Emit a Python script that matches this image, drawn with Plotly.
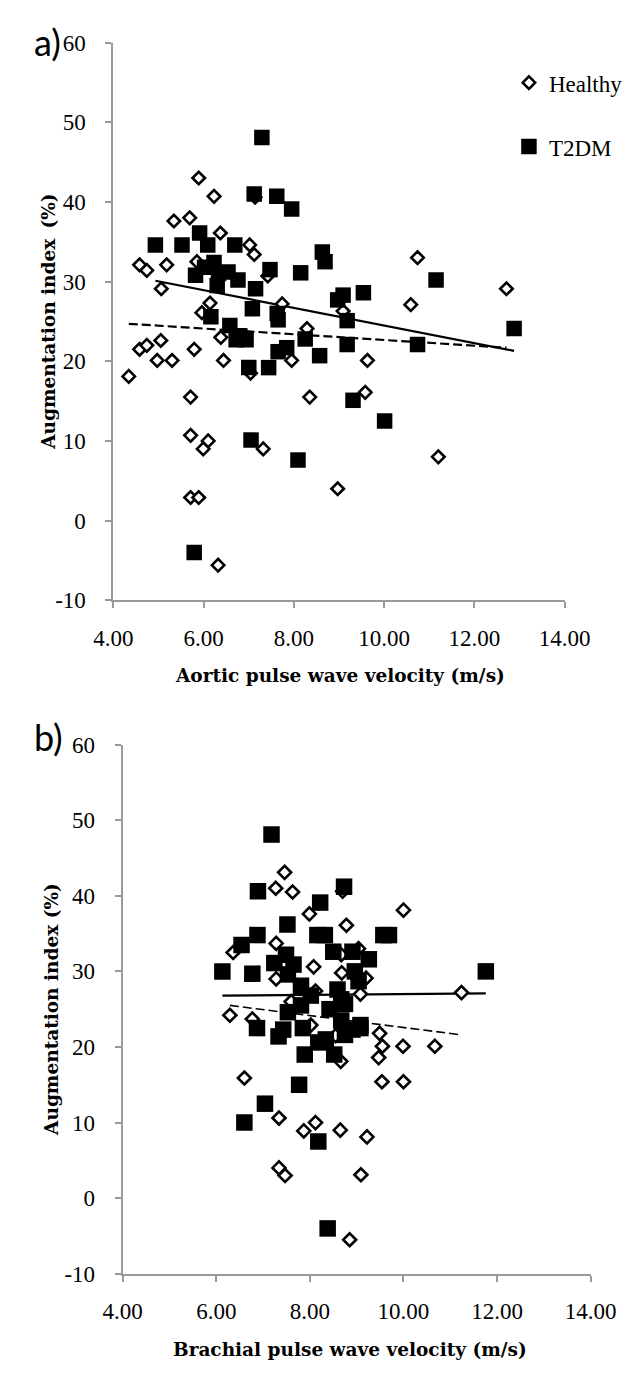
import plotly.graph_objects as go

# ---------------- data ----------------
# Panel a: aortic PWV (m/s) vs augmentation index (%)
a_healthy_x = [4.34, 4.58, 4.74, 5.18, 5.06, 5.34, 5.69, 5.89, 6.23, 6.37, 7.02, 7.12, 5.85, 6.14,
               5.96, 7.42, 7.74, 9.09, 10.74, 10.59, 12.71, 8.29, 6.38, 5.05, 4.58, 4.74, 4.97, 5.30,
               5.79, 6.44, 7.04, 7.95, 9.63, 5.71, 8.35, 9.58, 5.71, 6.10, 5.99, 7.32, 11.20, 8.97,
               5.71, 5.89, 6.32, 7.14]
a_healthy_y = [18.1, 32.1, 31.4, 32.1, 29.1, 37.6, 38.0, 43.0, 40.7, 36.1, 34.6, 33.4, 32.5, 27.3,
               26.1, 30.7, 27.2, 26.3, 33.0, 27.1, 29.1, 24.1, 23.0, 22.6, 21.5, 22.0, 20.1, 20.1,
               21.5, 20.1, 18.5, 20.1, 20.1, 15.5, 15.5, 16.1, 10.7, 10.0, 9.0, 9.0, 8.0, 4.0,
               2.9, 2.9, -5.6, 40.6]
a_t2dm_x = [4.93, 5.52, 5.91, 6.09, 6.69, 7.29, 7.12, 7.62, 7.95, 8.63, 8.69, 5.82, 6.02, 6.23,
            6.33, 6.54, 6.76, 6.30, 7.15, 7.47, 8.15, 7.08, 7.63, 7.65, 6.16, 6.58, 6.80, 6.94,
            6.72, 8.25, 9.18, 8.97, 9.09, 9.54, 11.15, 12.88, 10.74, 9.18, 7.65, 7.84, 8.57, 7.00,
            7.44, 9.31, 10.01, 7.05, 8.09, 5.79]
a_t2dm_y = [34.6, 34.6, 36.1, 34.6, 34.6, 48.1, 41.0, 40.7, 39.1, 33.7, 32.5, 30.8, 31.8, 32.4,
            31.0, 31.2, 30.2, 29.5, 29.1, 31.5, 31.1, 26.6, 26.0, 25.2, 25.6, 24.5, 23.2, 22.7,
            22.7, 22.8, 25.1, 27.7, 28.3, 28.6, 30.2, 24.1, 22.1, 22.1, 21.2, 21.7, 20.7, 19.2,
            19.2, 15.1, 12.5, 10.1, 7.6, -4.0]
# trend lines (end values)
a_trend_healthy_x = [4.34, 12.71]
a_trend_healthy_y = [24.7, 21.7]
a_trend_t2dm_x = [4.93, 12.88]
a_trend_t2dm_y = [30.1, 21.3]

# Panel b: brachial PWV (m/s) vs augmentation index (%)
b_healthy_x = [7.46, 7.27, 7.63, 7.99, 8.78, 10.00, 7.28, 6.36, 8.08, 9.04, 8.67, 8.68, 9.20, 7.28,
               8.12, 9.08, 11.24, 6.29, 6.77, 8.02, 9.49, 9.55, 9.99, 10.67, 9.47, 8.66, 6.60, 9.54,
               10.00, 7.34, 8.12, 7.87, 8.65, 9.22, 7.34, 7.47, 9.09, 8.85, 8.70, 8.55, 7.60]
b_healthy_y = [43.1, 41.0, 40.5, 37.6, 36.1, 38.1, 33.7, 32.5, 30.6, 33.0, 32.2, 29.8, 29.1, 29.0,
               27.4, 27.0, 27.2, 24.2, 23.7, 22.9, 21.8, 20.1, 20.1, 20.1, 18.6, 18.1, 15.9, 15.4,
               15.4, 10.6, 10.0, 8.9, 9.0, 8.1, 4.0, 3.0, 3.1, -5.5, 40.6, 21.5, 26.0]
b_t2dm_x = [7.18, 6.89, 8.73, 8.22, 7.52, 6.88, 6.54, 6.13, 6.77, 8.16, 8.32, 9.57, 9.69, 8.50,
            8.91, 9.26, 7.24, 7.49, 7.65, 7.53, 7.81, 8.96, 9.04, 8.02, 8.59, 8.67, 8.75, 7.81,
            7.53, 8.42, 8.67, 9.08, 11.76, 6.87, 7.43, 7.33, 7.85, 8.18, 8.34, 7.89, 8.52, 8.75,
            8.91, 9.08, 7.77, 7.04, 6.60, 8.18, 8.38]
b_t2dm_y = [48.1, 40.6, 41.2, 39.1, 36.2, 34.8, 33.5, 30.0, 29.7, 34.8, 34.8, 34.8, 34.8, 32.6,
            32.6, 31.6, 31.1, 32.2, 30.9, 29.6, 28.1, 30.0, 28.7, 26.8, 27.6, 26.3, 25.7, 25.5,
            24.6, 25.0, 23.5, 22.9, 30.0, 22.5, 22.3, 21.4, 22.5, 20.6, 21.0, 19.0, 19.0, 21.6,
            22.3, 22.5, 15.0, 12.5, 10.0, 7.5, -4.0]
b_trend_healthy_x = [6.29, 11.24]
b_trend_healthy_y = [25.5, 21.6]
b_trend_t2dm_x = [6.13, 11.76]
b_trend_t2dm_y = [26.8, 27.1]

x_ticks = [4, 6, 8, 10, 12, 14]
x_tick_labels = ["4.00", "6.00", "8.00", "10.00", "12.00", "14.00"]
y_ticks = [-10, 0, 10, 20, 30, 40, 50, 60]
y_tick_labels = ["-10", "0", "10", "20", "30", "40", "50", "60"]
x_title_a = "Aortic pulse wave velocity (m/s)"
x_title_b = "Brachial pulse wave velocity (m/s)"
y_title_a = "Augmentation index\u2009 (%)"
y_title_b = "Augmentation index (%)"
panel_labels = ["a)", "b)"]

# ---------------- figure ----------------
W, H = 643, 1375
OFF = 8  # the page body margin shifts the figure by this many pixels
SERIF = "Liberation Serif"
TSERIF = "DejaVu Serif"
fig = go.Figure()


def add_panel(xa, ya, hx, hy, tx, ty, lhx, lhy, ltx, lty, sq, dm, dash_w, show):
    fig.add_trace(go.Scatter(x=ltx, y=lty, mode="lines", xaxis=xa, yaxis=ya,
                             line=dict(color="black", width=2.2), showlegend=False,
                             hoverinfo="skip"))
    fig.add_trace(go.Scatter(x=lhx, y=lhy, mode="lines", xaxis=xa, yaxis=ya,
                             line=dict(color="black", width=dash_w, dash="9px,4px"),
                             showlegend=False, hoverinfo="skip"))
    fig.add_trace(go.Scatter(x=hx, y=hy, mode="markers", xaxis=xa, yaxis=ya, name="Healthy",
                             legendgroup="h", showlegend=show,
                             marker=dict(symbol="diamond", size=dm, color="white",
                                         line=dict(color="black", width=2.6))))
    fig.add_trace(go.Scatter(x=tx, y=ty, mode="markers", xaxis=xa, yaxis=ya, name="T2DM",
                             legendgroup="t", showlegend=show,
                             marker=dict(symbol="square", size=sq, color="black",
                                         line=dict(color="black", width=0))))


add_panel("x", "y", a_healthy_x, a_healthy_y, a_t2dm_x, a_t2dm_y,
          a_trend_healthy_x, a_trend_healthy_y, a_trend_t2dm_x, a_trend_t2dm_y,
          15.5, 9.6, 2.2, True)
add_panel("x2", "y2", b_healthy_x, b_healthy_y, b_t2dm_x, b_t2dm_y,
          b_trend_healthy_x, b_trend_healthy_y, b_trend_t2dm_x, b_trend_t2dm_y,
          16.5, 10, 1.6, False)

tickfont = dict(family=SERIF, size=23, color="black")
titlefont = dict(family=TSERIF, size=18.5, color="black", weight="bold")
axis_common = dict(showgrid=False, zeroline=False, showline=True, linecolor="#9a9a9a",
                   linewidth=2, ticks="outside", tickcolor="#9a9a9a", tickwidth=2, ticklen=6,
                   tickfont=tickfont)


def xaxis(domain, anchor):
    return dict(domain=domain, anchor=anchor, range=[4, 14], tickvals=x_ticks,
                ticktext=x_tick_labels, ticklabelstandoff=10, **axis_common)


def yaxis(domain, anchor):
    return dict(domain=domain, anchor=anchor, range=[-10, 60], tickvals=y_ticks,
                ticktext=y_tick_labels, ticklabelstandoff=15, **axis_common)


def px(x):
    return (x - OFF) / W


def py(y):
    return 1 - (y - OFF) / H


annots = [
    dict(text=x_title_a, x=px(344), y=py(676), textangle=0),
    dict(text=y_title_a, x=px(30), y=py(315), textangle=-90),
    dict(text=x_title_b, x=px(355), y=py(1362), textangle=0),
    dict(text=y_title_b, x=px(33), y=py(1016), textangle=-90),
]
annotations = [dict(xref="paper", yref="paper", xanchor="center", yanchor="middle",
                    showarrow=False, font=titlefont, **a) for a in annots]
for lab, yy in zip(panel_labels, [30, 738]):
    annotations.append(dict(text=lab, x=px(12), y=py(yy), xref="paper", yref="paper",
                            xanchor="left", yanchor="middle", showarrow=False,
                            font=dict(family="Lato", size=36, color="black")))

fig.update_layout(
    width=W, height=H, autosize=False,
    margin=dict(l=0, r=0, t=0, b=0),
    paper_bgcolor="white", plot_bgcolor="white",
    xaxis=xaxis([px(100), px(586)], "y"),
    yaxis=yaxis([py(599), py(31)], "x"),
    xaxis2=xaxis([px(110), px(614)], "y2"),
    yaxis2=yaxis([py(1285), py(746)], "x2"),
    legend=dict(x=px(526), y=py(50), xanchor="left", yanchor="top",
                font=dict(family=SERIF, size=23, color="black"),
                tracegroupgap=31, traceorder="grouped", itemsizing="trace",
                bgcolor="rgba(0,0,0,0)"),
    annotations=annotations,
)

fig.write_html("out.html")
